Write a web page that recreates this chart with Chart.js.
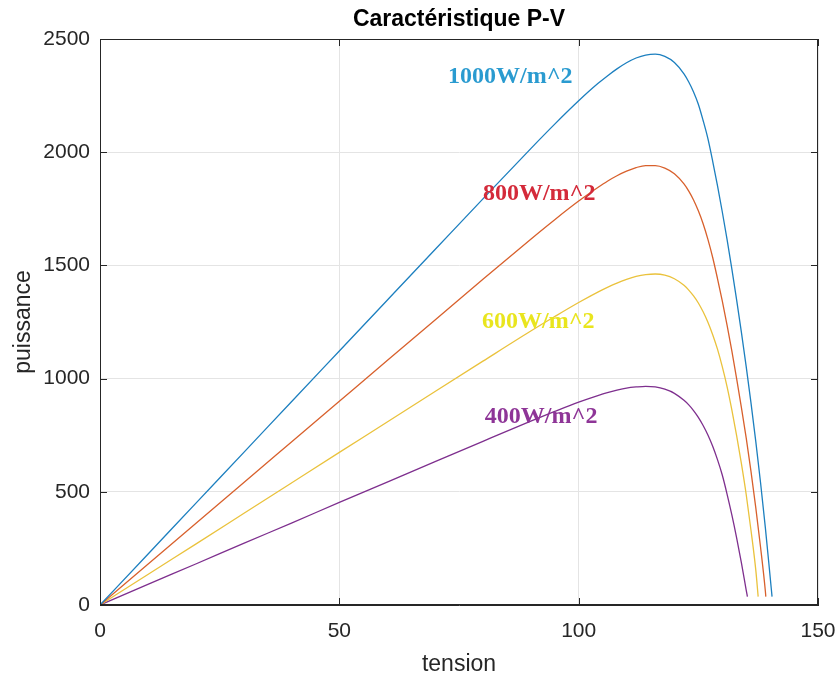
<!DOCTYPE html>
<html lang="fr">
<head>
    <meta charset="UTF-8">
    <title>Caractéristique P-V</title>
    <style>
        body { margin: 0; background: #ffffff; }
        canvas { display: block; }
    </style>
</head>
<body>
    <canvas id="pvChart" width="837" height="678"></canvas>

    <script src="https://cdn.jsdelivr.net/npm/chart.js"></script>
    <script>
        // tensions communes (V) jusqu'à 135 V
        const tensionBase = [0, 10, 20, 30, 40, 50, 60, 70, 80, 90, 95, 100, 104, 106, 108, 110, 112, 114,
            116, 118, 120, 122, 123, 124, 125, 126, 127, 128, 129, 130, 131, 132, 133, 134, 135];

        // fin de chaque courbe (jusqu'au circuit ouvert)
        const finTension1000 = [136, 137, 138, 139, 140, 140.4];
        const finTension800 = [136, 137, 138, 139, 139.1];
        const finTension600 = [136, 137, 137.5];
        const finTension400 = [135.25];

        // puissance (W)
        const puissance1000 = [0, 224, 449, 673, 898, 1122, 1346, 1570, 1794, 2016, 2124, 2227, 2303, 2337, 2368, 2395, 2416, 2429,
            2433, 2423, 2396, 2346, 2310, 2266, 2212, 2140, 2060, 1960, 1852, 1737, 1615, 1485, 1348, 1204, 1053,
            893, 723, 540, 342, 125, 37];
        const puissance800 = [0, 180, 360, 540, 720, 900, 1080, 1259, 1439, 1616, 1702, 1784, 1844, 1872, 1896, 1916, 1932, 1941,
            1941, 1930, 1905, 1860, 1828, 1789, 1741, 1684, 1615, 1535, 1442, 1343, 1236, 1122, 1000, 872, 738,
            590, 430, 255, 62, 37];
        const puissance600 = [0, 135, 269, 404, 539, 674, 808, 943, 1077, 1210, 1274, 1336, 1382, 1403, 1422, 1438, 1451, 1459,
            1462, 1457, 1441, 1412, 1391, 1365, 1334, 1295, 1249, 1194, 1130, 1053, 965, 862, 748, 624, 488,
            330, 155, 37];
        const puissance400 = [0, 91, 181, 272, 362, 453, 543, 633, 723, 812, 855, 896, 925, 938, 949, 958, 963, 966,
            963, 953, 935, 904, 884, 859, 829, 793, 751, 701, 642, 574, 490, 398, 297, 186, 66,
            37];

        const ticksTension = [0, 50, 100, 150];
        const ticksPuissance = [0, 500, 1000, 1500, 2000, 2500];

        // textes de la figure
        const etiquettes = ['1000W/m^2', '800W/m^2', '600W/m^2', '400W/m^2'];
        const etiquetteTension = [72.7, 80.0, 79.8, 80.4];
        const etiquettePuissance = [2332, 1815, 1250, 830];

        const couleursCourbes = ['#1c7fbf', '#d8602c', '#eac23c', '#7e2f8e'];
        const couleursTextes = ['#2a9bd0', '#d42a3a', '#e9e51e', '#8e3597'];

        function points(tensions, puissances) {
            return tensions.map((v, i) => ({ x: v, y: puissances[i] }));
        }

        const series = [
            points(tensionBase.concat(finTension1000), puissance1000),
            points(tensionBase.concat(finTension800), puissance800),
            points(tensionBase.concat(finTension600), puissance600),
            points(tensionBase.concat(finTension400), puissance400)
        ];

        const encre = '#262626';

        // cadre complet, petits traits vers l'intérieur, titre et textes
        const cadreMatlab = {
            id: 'cadreMatlab',
            afterDatasetsDraw(chart) {
                const { ctx, chartArea: a, scales } = chart;
                ctx.save();
                ctx.strokeStyle = encre;
                ctx.lineWidth = 1;
                ctx.strokeRect(a.left + 0.5, a.top + 0.5, a.right - a.left - 1, a.bottom - a.top - 1);
                const t = 7;
                ctx.beginPath();
                ticksTension.forEach(v => {
                    const x = Math.round(scales.x.getPixelForValue(v)) + 0.5;
                    ctx.moveTo(x, a.bottom); ctx.lineTo(x, a.bottom - t);
                    ctx.moveTo(x, a.top); ctx.lineTo(x, a.top + t);
                });
                ticksPuissance.forEach(p => {
                    const y = Math.round(scales.y.getPixelForValue(p)) + 0.5;
                    ctx.moveTo(a.left, y); ctx.lineTo(a.left + t, y);
                    ctx.moveTo(a.right, y); ctx.lineTo(a.right - t, y);
                });
                ctx.stroke();

                ctx.fillStyle = '#000000';
                ctx.font = 'bold 23px "Liberation Sans", Arial, sans-serif';
                ctx.textAlign = 'center';
                ctx.textBaseline = 'alphabetic';
                ctx.fillText('Caractéristique P-V', (a.left + a.right) / 2, 26);

                ctx.font = 'bold 24px "Liberation Serif", "Times New Roman", serif';
                ctx.textAlign = 'left';
                ctx.textBaseline = 'middle';
                etiquettes.forEach((txt, i) => {
                    ctx.fillStyle = couleursTextes[i];
                    ctx.fillText(txt, scales.x.getPixelForValue(etiquetteTension[i]),
                        scales.y.getPixelForValue(etiquettePuissance[i]));
                });
                ctx.restore();
            }
        };

        const ctx = document.getElementById('pvChart').getContext('2d');
        const chartPV = new Chart(ctx, {
            type: 'line',
            data: {
                datasets: series.map((d, i) => ({
                    label: etiquettes[i],
                    data: d,
                    borderColor: couleursCourbes[i],
                    backgroundColor: 'transparent',
                    borderWidth: 1.3,
                    pointRadius: 0,
                    cubicInterpolationMode: 'monotone',
                    fill: false
                }))
            },
            options: {
                responsive: false,
                animation: false,
                layout: { padding: { top: 39, right: 19, bottom: 0, left: 0 } },
                plugins: {
                    legend: { display: false },
                    tooltip: { enabled: false },
                    title: { display: false }
                },
                scales: {
                    x: {
                        type: 'linear',
                        min: 0,
                        max: 150,
                        afterFit: s => { s.height = 73; s.paddingLeft = 0; s.paddingRight = 0; },
                        afterBuildTicks: s => { s.ticks = ticksTension.map(v => ({ value: v })); },
                        grid: { color: '#e4e4e4', lineWidth: 1, drawTicks: false },
                        border: { display: true, color: encre },
                        ticks: {
                            padding: 14,
                            color: encre,
                            callback: v => String(v),
                            font: { family: '"Liberation Sans", Arial, sans-serif', size: 21 }
                        },
                        title: {
                            display: true,
                            text: 'tension',
                            color: encre,
                            padding: { top: 0, bottom: 0 },
                            font: { family: '"Liberation Sans", Arial, sans-serif', size: 23 }
                        }
                    },
                    y: {
                        type: 'linear',
                        min: 0,
                        max: 2500,
                        afterFit: s => { s.width = 100; s.paddingTop = 0; s.paddingBottom = 0; },
                        afterBuildTicks: s => { s.ticks = ticksPuissance.map(p => ({ value: p })); },
                        grid: { color: '#e4e4e4', lineWidth: 1, drawTicks: false },
                        border: { display: true, color: encre },
                        ticks: {
                            padding: 10,
                            color: encre,
                            callback: v => String(v),
                            font: { family: '"Liberation Sans", Arial, sans-serif', size: 21 }
                        },
                        title: {
                            display: true,
                            text: 'puissance',
                            color: encre,
                            padding: { top: 10, bottom: 0 },
                            font: { family: '"Liberation Sans", Arial, sans-serif', size: 23 }
                        }
                    }
                }
            },
            plugins: [cadreMatlab]
        });
    </script>
</body>
</html>
